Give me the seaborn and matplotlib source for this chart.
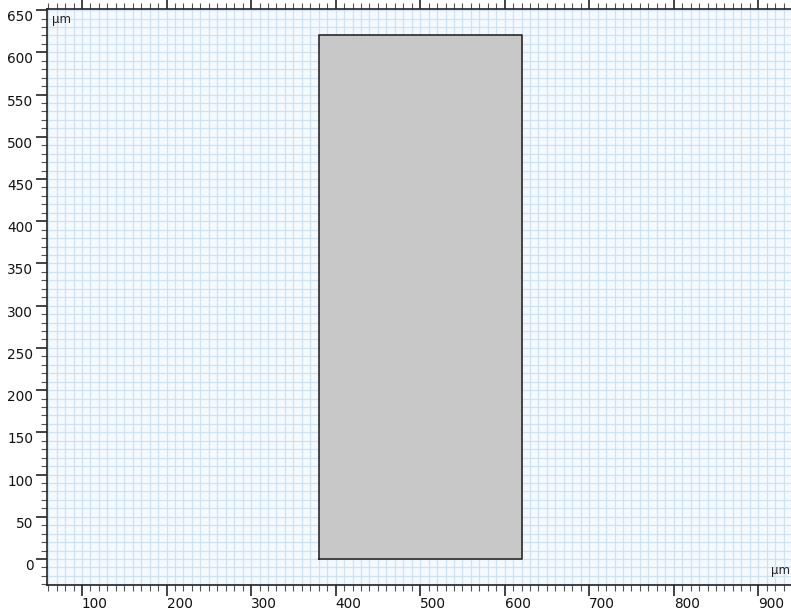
import numpy as np
import pandas as pd
import matplotlib
matplotlib.use("Agg")
import matplotlib.pyplot as plt
import seaborn as sns
from matplotlib.ticker import MultipleLocator

# Geometry data (µm)
rect_x = [380, 620, 620, 380, 380]
rect_y = [0, 0, 620, 620, 0]
x_limits = [58, 938.7]
y_limits = [-30.8, 651]
x_major = [100, 200, 300, 400, 500, 600, 700, 800, 900]
y_major = [0, 50, 100, 150, 200, 250, 300, 350, 400, 450, 500, 550, 600, 650]
unit_label = "µm"

sns.set_theme(style="white")
plt.rcParams['font.family'] = ['DejaVu Sans']

fig = plt.figure(figsize=(7.91, 6.10), dpi=100)
ax = fig.add_axes([46.5 / 791, 25 / 610, 744.5 / 791, 575.7 / 610])
ax.set_facecolor("#f4faff")

df = pd.DataFrame({"x": rect_x, "y": rect_y})
ax.fill(df["x"], df["y"], color="#c8c8c8", zorder=2, linewidth=0)
sns.lineplot(data=df, x="x", y="y", sort=False, estimator=None, color="#2a2a2a",
             linewidth=1.2, ax=ax, zorder=3)

ax.set_xlim(x_limits)
ax.set_ylim(y_limits)
ax.set_xlabel("")
ax.set_ylabel("")

ax.set_xticks(x_major)
ax.set_xticklabels([str(v) for v in x_major])
ax.set_yticks(y_major)
ax.set_yticklabels([str(v) for v in y_major])
ax.xaxis.set_minor_locator(MultipleLocator(10))
ax.yaxis.set_minor_locator(MultipleLocator(10))

ax.grid(True, which="both", color="#cfe2f3", linewidth=0.9, zorder=0)
ax.set_axisbelow(True)

ax.tick_params(axis="both", which="major", direction="out", length=8, width=1.2,
               color="#222222", labelsize=9.8, labelcolor="#111111")
ax.tick_params(axis="x", which="major", pad=0.5)
ax.tick_params(axis="y", which="major", pad=1.5)
ax.tick_params(axis="both", which="minor", direction="out", length=4, width=0.8,
               color="#555555")
ax.tick_params(axis="x", which="both", top=True, labeltop=False, bottom=True)
ax.tick_params(axis="y", which="both", left=True, right=False)

for lab in ax.get_xticklabels():
    lab.set_horizontalalignment("left")
for lab in ax.get_yticklabels():
    lab.set_verticalalignment("top")

for side in ["left", "bottom", "top"]:
    ax.spines[side].set_visible(True)
    ax.spines[side].set_color("#222222")
    ax.spines[side].set_linewidth(1.2)
ax.spines["right"].set_visible(False)

ax.text(0.008, 0.993, unit_label, transform=ax.transAxes, ha="left", va="top",
        fontsize=8.5, color="#222222")
ax.text(0.998, 0.014, unit_label, transform=ax.transAxes, ha="right", va="bottom",
        fontsize=8.5, color="#222222")

fig.savefig("out.png", dpi=100)
